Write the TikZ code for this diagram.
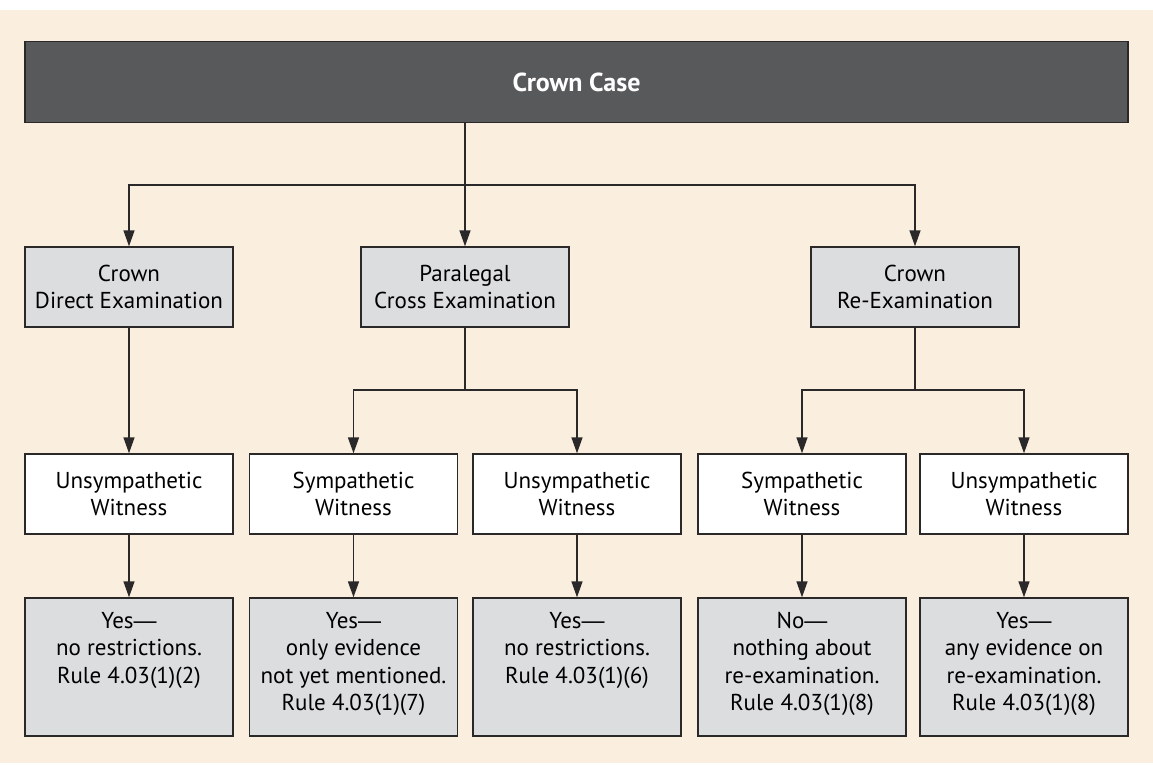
\documentclass[tikz,border=0pt]{standalone}
\usepackage{fontspec}
\setmainfont{PT Sans}
\newfontfamily\dashfont{Liberation Sans}
\usetikzlibrary{arrows.meta, positioning}

\definecolor{paper}{HTML}{FAEEDF}
\definecolor{barfill}{HTML}{58595B}
\definecolor{boxfill}{HTML}{DCDDDF}
\definecolor{ink}{HTML}{2A2829}

\newcommand{\restext}[1]{\parbox[t][55pt][t]{104pt}{\centering #1}}
\newcommand{\emd}{{\dashfont —}}

\begin{document}
\begin{tikzpicture}[x=0.5pt, y=-0.5pt]
			\tikzset {>={Triangle[length=8pt, width=5.5pt]}, every node/.style={font=\fontsize{11.5}{13.75}\selectfont, inner sep=0pt},
				box/.style={draw=ink, line width=0.7pt, align=center, minimum width=104pt, minimum height=40pt},
				stage/.style={box, fill=boxfill},
				witness/.style={box, fill=white},
				result/.style={box, fill=boxfill, minimum height=69pt},
				link/.style={draw=ink, line width=0.75pt} }

			\useasboundingbox (0,0) rectangle (1153,765);
			\fill[paper] (0,10) rectangle (1153,763);

			\node[draw=ink, line width=0.7pt, fill=barfill, minimum width=551.5pt, minimum height=40.5pt, text=white, font=\fontsize{13}{15}\selectfont\bfseries] (crown) at (576.5,82) {Crown Case};

			\node[stage] (direct) at (129,287) {Crown\\Direct Examination};
			\node[stage] (cross) at (465,287) {Paralegal\\Cross Examination};
			\node[stage] (reexam) at (915,287) {Crown\\Re-Examination};

			\node[witness] (wa) at (129,494) {Unsympathetic\\Witness};
			\node[witness] (wb) at (353.5,494) {Sympathetic\\Witness};
			\node[witness] (wc) at (577,494) {Unsympathetic\\Witness};
			\node[witness] (wd) at (802,494) {Sympathetic\\Witness};
			\node[witness] (we) at (1024,494) {Unsympathetic\\Witness};

			\node[result] (ra) at (129,667) {\restext{Yes\emd\\no restrictions.\\Rule 4.03(1)(2)}};
			\node[result] (rb) at (353.5,667) {\restext{Yes\emd\\only evidence\\not yet mentioned.\\Rule 4.03(1)(7)}};
			\node[result] (rc) at (577,667) {\restext{Yes\emd\\no restrictions.\\Rule 4.03(1)(6)}};
			\node[result] (rd) at (802,667) {\restext{No\emd\\nothing about\\re-examination.\\Rule 4.03(1)(8)}};
			\node[result] (re) at (1024,667) {\restext{Yes\emd\\any evidence on\\re-examination.\\Rule 4.03(1)(8)}};

			\coordinate (top) at (465,185);
			\coordinate (split2) at (465,390);
			\coordinate (split3) at (915,390);

			\draw[link] (crown.south -| top) -- (top);
			\draw[link, ->] (top) -| (direct.north);
			\draw[link, ->] (top) -- (cross.north);
			\draw[link, ->] (top) -| (reexam.north);

			\draw[link, ->] (direct) -- (wa);
			\draw[link] (cross) -- (split2);
			\draw[link, ->] (split2) -| (wb.north);
			\draw[link, ->] (split2) -| (wc.north);
			\draw[link] (reexam) -- (split3);
			\draw[link, ->] (split3) -| (wd.north);
			\draw[link, ->] (split3) -| (we.north);

			\draw[link, ->] (wa) -- (ra);
			\draw[link, ->] (wb) -- (rb);
			\draw[link, ->] (wc) -- (rc);
			\draw[link, ->] (wd) -- (rd);
			\draw[link, ->] (we) -- (re);
		\end{tikzpicture}
\end{document}
